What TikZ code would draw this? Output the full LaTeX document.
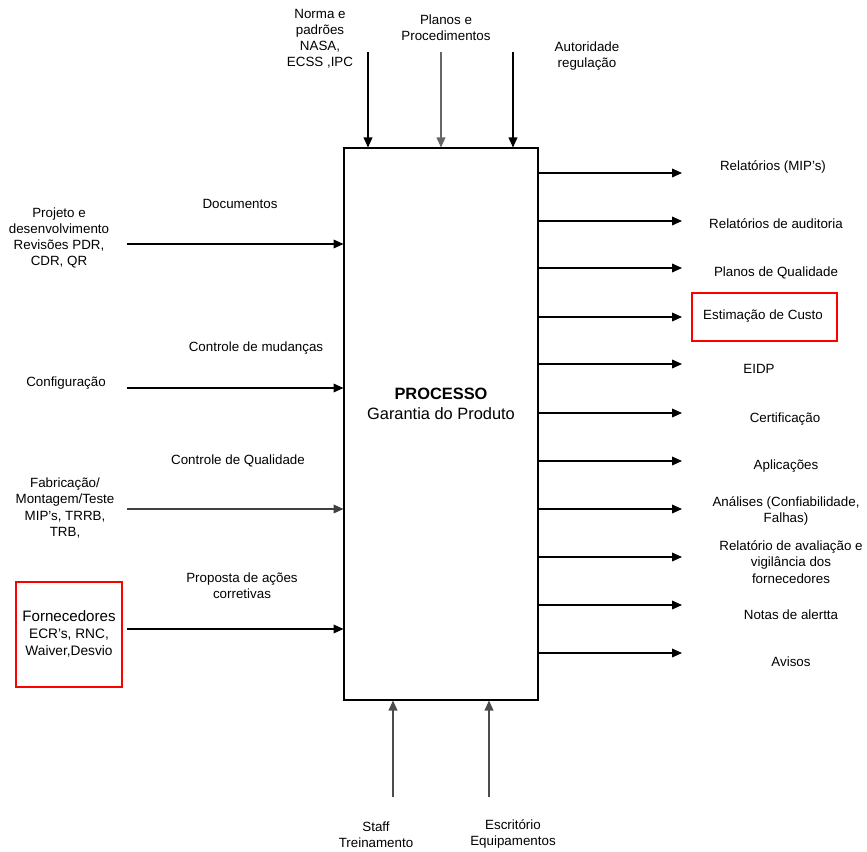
\documentclass[tikz,border=0pt]{standalone}
\usepackage{fontspec}
\setmainfont{Liberation Sans}
\usetikzlibrary{arrows.meta,positioning}

\begin{document}
\begin{tikzpicture}[x=0.03cm, y=-0.03cm,
  lbl/.style={align=center, font=\fontsize{11.4}{13.8}\selectfont, inner sep=0pt},
  flow/.style={-{Triangle[length=8.5pt,width=7.5pt]}, line width=0.9pt},
  redbox/.style={draw=red, line width=1.1pt, inner sep=0pt}]

  \useasboundingbox (0,0) rectangle (867,852);

  % Process block
  \node[draw, line width=0.9pt, minimum width=5.82cm, minimum height=16.56cm, inner sep=0pt] (proc) at (441,424) {};
  \node[align=center, font=\fontsize{14}{17.5}\selectfont] (title) at (441,404) {\textbf{PROCESSO}\\Garantia do Produto};

  % Controls (top)
  \coordinate (ctl1) at (368,52);
  \coordinate (ctl2) at (441,52);
  \coordinate (ctl3) at (513,52);
  \node[lbl] (norma) at (320,39) {Norma e\\padrões\\NASA,\\ECSS ,IPC};
  \node[lbl] (planos) at (446,28) {Planos e\\Procedimentos};
  \node[lbl] (autor) at (587,56) {Autoridade\\regulação};
  \draw[flow] (ctl1) -- (ctl1 |- proc.north);
  \draw[flow, draw=black!60] (ctl2) -- (ctl2 |- proc.north);
  \draw[flow] (ctl3) -- (ctl3 |- proc.north);

  % Inputs (left)
  \coordinate (in1) at (127,244);
  \coordinate (in2) at (127,388);
  \coordinate (in3) at (127,509);
  \coordinate (in4) at (127,629);
  \node[lbl] (projeto) at (59,238) {Projeto e\\desenvolvimento\\Revisões PDR,\\CDR, QR};
  \node[lbl] (config) at (66,383) {Configuração};
  \node[lbl] (fabric) at (65,508) {Fabricação/\\Montagem/Teste\\MIP’s, TRRB,\\TRB,};
  \node[redbox, minimum width=3.18cm, minimum height=3.15cm] (fornec) at (69,634.5) {};
  \node[align=center, font=\fontsize{11.7}{14.5}\selectfont, inner sep=0pt] (fornectxt) at (69,634) {{\fontsize{12.9}{14.5}\selectfont Fornecedores}\\ECR’s, RNC,\\Waiver,Desvio};
  \node[lbl] (docs) at (240,204) {Documentos};
  \node[lbl] (mudanca) at (256,348) {Controle de mudanças};
  \node[lbl] (qualid) at (238,461) {Controle de Qualidade};
  \node[lbl] (acoes) at (242,586) {Proposta de ações\\corretivas};
  \draw[flow] (in1) -- (in1 -| proc.west);
  \draw[flow] (in2) -- (in2 -| proc.west);
  \draw[flow, draw=black!75] (in3) -- (in3 -| proc.west);
  \draw[flow] (in4) -- (in4 -| proc.west);

  % Outputs (right)
  \coordinate (out1) at (682,173);
  \coordinate (out2) at (682,221);
  \coordinate (out3) at (682,268);
  \coordinate (out4) at (682,317);
  \coordinate (out5) at (682,364);
  \coordinate (out6) at (682,413);
  \coordinate (out7) at (682,461);
  \coordinate (out8) at (682,509);
  \coordinate (out9) at (682,557);
  \coordinate (out10) at (682,605);
  \coordinate (out11) at (682,653);
  \node[lbl] (rel) at (773,167) {Relatórios (MIP’s)};
  \node[lbl] (audit) at (776,224) {Relatórios de auditoria};
  \node[lbl] (planq) at (776,273) {Planos de Qualidade};
  \node[redbox, minimum width=4.35cm, minimum height=1.44cm] (custo) at (764.5,317) {};
  \node[lbl] (custotxt) at (763,316) {Estimação de Custo};
  \node[lbl] (eidp) at (759,369) {EIDP};
  \node[lbl] (certif) at (785,419) {Certificação};
  \node[lbl] (aplic) at (786,466) {Aplicações};
  \node[lbl] (analise) at (786,511) {Análises (Confiabilidade,\\Falhas)};
  \node[lbl] (avalia) at (791,562) {Relatório de avaliação e\\vigilância dos\\fornecedores};
  \node[lbl] (notas) at (791,615) {Notas de alertta};
  \node[lbl] (avisos) at (791,662) {Avisos};
  \draw[flow] (out1 -| proc.east) -- (out1);
  \draw[flow] (out2 -| proc.east) -- (out2);
  \draw[flow] (out3 -| proc.east) -- (out3);
  \draw[flow] (out4 -| proc.east) -- (out4);
  \draw[flow] (out5 -| proc.east) -- (out5);
  \draw[flow] (out6 -| proc.east) -- (out6);
  \draw[flow] (out7 -| proc.east) -- (out7);
  \draw[flow] (out8 -| proc.east) -- (out8);
  \draw[flow] (out9 -| proc.east) -- (out9);
  \draw[flow] (out10 -| proc.east) -- (out10);
  \draw[flow] (out11 -| proc.east) -- (out11);

  % Mechanisms (bottom)
  \coordinate (mec1) at (393,797);
  \coordinate (mec2) at (489,797);
  \node[lbl] (staff) at (376,835) {Staff\\Treinamento};
  \node[lbl] (escrit) at (513,834) {Escritório\\Equipamentos};
  \draw[flow, draw=black!70] (mec1) -- (mec1 |- proc.south);
  \draw[flow, draw=black!70] (mec2) -- (mec2 |- proc.south);

\end{tikzpicture}
\end{document}
